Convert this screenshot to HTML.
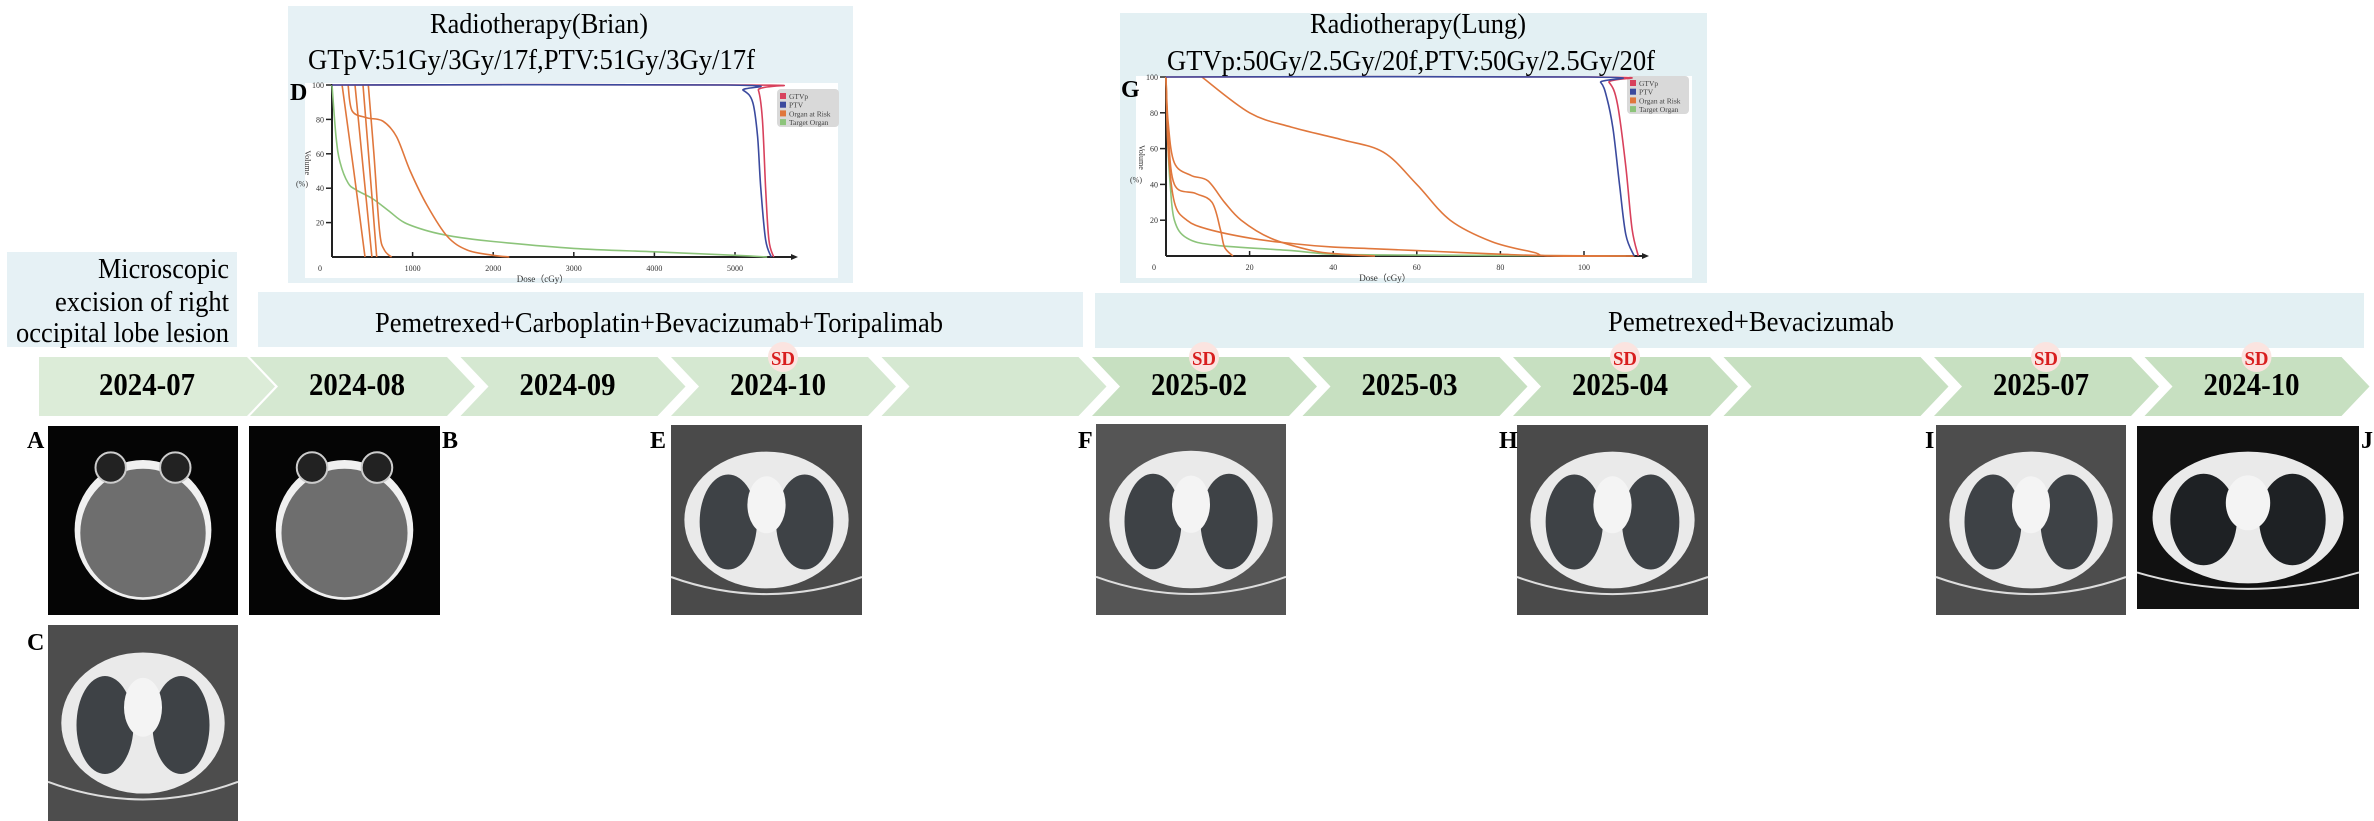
<!DOCTYPE html>
<html><head><meta charset="utf-8">
<style>
html,body{margin:0;padding:0;background:#fff;}
svg{display:block;}
text{font-family:"Liberation Serif",serif;}
</style></head>
<body>
<svg id="fig" width="2374" height="821" viewBox="0 0 2374 821" xmlns="http://www.w3.org/2000/svg">
<g>
<rect x="7" y="252" width="230" height="95" fill="#e6f1f5"/>
<text x="229" y="278" font-size="28" text-anchor="end" textLength="131" lengthAdjust="spacingAndGlyphs">Microscopic</text>
<text x="229" y="311" font-size="28" text-anchor="end" textLength="174" lengthAdjust="spacingAndGlyphs">excision of right</text>
<text x="229" y="342" font-size="28" text-anchor="end" textLength="213" lengthAdjust="spacingAndGlyphs">occipital lobe lesion</text>
</g>
<g>
<rect x="258" y="292" width="825" height="55" fill="#e6f1f5"/>
<text x="375" y="332" font-size="28" textLength="568" lengthAdjust="spacingAndGlyphs">Pemetrexed+Carboplatin+Bevacizumab+Toripalimab</text>
</g>
<g>
<rect x="1095" y="293" width="1269" height="55" fill="#e3f0f3"/>
<text x="1608" y="331" font-size="28" textLength="286" lengthAdjust="spacingAndGlyphs">Pemetrexed+Bevacizumab</text>
</g>
<g id="brainChart">
<rect x="288" y="6" width="565" height="277" fill="#e6f1f5"/>
<rect x="305" y="83" width="533" height="195" fill="#fff"/>
<text x="430" y="33" font-size="28" textLength="218" lengthAdjust="spacingAndGlyphs">Radiotherapy(Brian)</text>
<text x="308" y="69" font-size="28" textLength="447" lengthAdjust="spacingAndGlyphs">GTpV:51Gy/3Gy/17f,PTV:51Gy/3Gy/17f</text>
<text x="290" y="100" font-size="24" font-weight="bold">D</text>
</g>
<g id="lungChart">
<rect x="1120" y="13" width="587" height="270" fill="#e3f0f3"/>
<rect x="1136" y="76" width="556" height="202" fill="#fff"/>
<text x="1310" y="33" font-size="28" textLength="216" lengthAdjust="spacingAndGlyphs">Radiotherapy(Lung)</text>
<text x="1167" y="70" font-size="28" textLength="488" lengthAdjust="spacingAndGlyphs">GTVp:50Gy/2.5Gy/20f,PTV:50Gy/2.5Gy/20f</text>
<text x="1121" y="97" font-size="24" font-weight="bold">G</text>
</g>
<g id="timeline"></g>
<g id="scans"></g>
</svg>
<script>
// ---------- Brain DVH data (dose cGy, volume %) ----------
const brainXTicks=[0,1000,2000,3000,4000,5000];
const brainYTicks=[20,40,60,80,100];
const brainGtvDose=[0,5200,5290,5340,5380,5420,5480];
const brainGtvVol=[100,100,97,80,40,10,0];
const brainPtvDose=[0,4900,5100,5220,5280,5320,5380,5450];
const brainPtvVol=[100,100,97,90,70,40,10,0];
const brainTargetDose=[0,50,100,200,300,500,700,900,1200,1500,2000,3000,4000,5000,5400];
const brainTargetVol=[100,70,55,43,39,34,27,20,15,12,9,5,3,1,0];
const brainOar1Dose=[125,270,410];
const brainOar1Vol=[100,50,0];
const brainOar2Dose=[200,250,430,630,800,970,1180,1430,1680,2000,2200];
const brainOar2Vol=[100,85,81,79,70,50,30,12,4,1,0];
const brainOar3Dose=[285,390,495];
const brainOar3Vol=[100,50,0];
const brainOar4Dose=[385,470,555];
const brainOar4Vol=[100,50,0];
const brainOar5Dose=[450,520,590,650,740];
const brainOar5Vol=[100,60,15,4,0];
// ---------- Lung DVH data (dose Gy, volume %) ----------
const lungXTicks=[0,20,40,60,80,100];
const lungYTicks=[20,40,60,80,100];
const lungGtvDose=[0,103,106,108,110,111.5,113];
const lungGtvVol=[100,100,97,85,50,15,0];
const lungPtvDose=[0,101,104,105.5,107,108.5,110,112];
const lungPtvVol=[100,100,97,88,70,40,12,0];
const lungTargetDose=[0,0.5,1,2,5,12,30,40,60,110];
const lungTargetVol=[100,60,40,20,10,6,3,1,0.5,0];
const lungOarADose=[8.6,20,30,42,52,60,68,78,88,92,112];
const lungOarAVol=[100,80,72,65,58,40,20,8,2,0,0];
const lungOarBDose=[0,0.5,2,6,10,14,18,25,35,42,50];
const lungOarBVol=[100,75,52,45,42,30,20,10,3,1,0];
const lungOarCDose=[0,0.5,2,7,11,13,14,16];
const lungOarCVol=[100,70,40,35,30,15,5,0];
const lungOarDDose=[0,0.5,2,5,10,20,30,40,50,60,70,80,90,112];
const lungOarDVol=[100,60,30,20,15,10,7,5,4,3,2,1,0.3,0];
// ---------- Timeline data ----------
const dateLabels=["2024-07","2024-08","2024-09","2024-10","","2025-02","2025-03","2025-04","","2025-07","2024-10"];
const sdFlags=[0,0,0,1,0,1,0,1,0,1,1];

const NS="http://www.w3.org/2000/svg";
function mk(tag,attrs,parent){const e=document.createElementNS(NS,tag);for(const k in attrs)e.setAttribute(k,attrs[k]);if(parent)parent.appendChild(e);return e;}
function curve(xs,ys,sx,sy){
  const p=xs.map((x,i)=>[sx(x),sy(ys[i])]);
  let d="M"+p[0][0].toFixed(1)+","+p[0][1].toFixed(1);
  for(let i=0;i<p.length-1;i++){
    const p0=p[i-1]||p[i],p1=p[i],p2=p[i+1],p3=p[i+2]||p[i+1];
    const c1=[p1[0]+(p2[0]-p0[0])/6,p1[1]+(p2[1]-p0[1])/6];
    const c2=[p2[0]-(p3[0]-p1[0])/6,p2[1]-(p3[1]-p1[1])/6];
    d+=" C"+c1.map(v=>v.toFixed(1))+" "+c2.map(v=>v.toFixed(1))+" "+p2[0].toFixed(1)+","+p2[1].toFixed(1);
  }
  return d;
}
const C_GTV="#d8415c",C_PTV="#3b4a9e",C_OAR="#e0773c",C_TGT="#8cc47a";

function drawAxes(g,sx,sy,xTicks,yTicks,x0,y0,xEnd,yTop,xlabel,legX,legY){
  const ax=mk("g",{},g);
  
  
  mk("line",{x1:x0,y1:y0,x2:xEnd,y2:y0,stroke:"#222","stroke-width":2},ax);
  mk("line",{x1:x0,y1:y0,x2:x0,y2:yTop,stroke:"#222","stroke-width":2},ax);
  mk("path",{d:`M${xEnd+5},${y0} L${xEnd-2},${y0-3} L${xEnd-2},${y0+3}Z`,fill:"#222"},ax);
  xTicks.forEach(t=>{
    const x=sx(t);
    if(t>0) mk("line",{x1:x,y1:y0-5,x2:x,y2:y0,stroke:"#222","stroke-width":1.5},ax);
    const tx=mk("text",{x:t===0?x0-12:x,y:y0+14,"font-size":8,"text-anchor":"middle",fill:"#333"},ax);
    tx.textContent=t;
  });
  yTicks.forEach(t=>{
    const y=sy(t);
    mk("line",{x1:x0-6,y1:y,x2:x0,y2:y,stroke:"#222","stroke-width":1.5},ax);
    const ty=mk("text",{x:x0-8,y:y+3,"font-size":8,"text-anchor":"end",fill:"#333"},ax);
    ty.textContent=t;
  });
  const yl=mk("text",{x:0,y:0,"font-size":8,fill:"#333",transform:`translate(${x0-27},${sy(62)}) rotate(90)`},ax);
  yl.textContent="Volume";
  const yp=mk("text",{x:x0-30,y:sy(41),"font-size":8,fill:"#333","text-anchor":"middle"},ax);
  yp.textContent="(%)";
  const xl=mk("text",{x:(x0+xEnd)/2-20,y:y0+25,"font-size":9,fill:"#333","text-anchor":"middle"},ax);
  xl.textContent=xlabel;
  const lg=mk("g",{},g);
  
  
  mk("rect",{x:legX,y:legY,width:62,height:38,rx:4,fill:"#d9d9d9"},lg);
  [["GTVp",C_GTV],["PTV",C_PTV],["Organ at Risk",C_OAR],["Target Organ",C_TGT]].forEach((e,i)=>{
    mk("rect",{x:legX+3,y:legY+4+i*8.7,width:6,height:6,fill:e[1]},lg);
    const t=mk("text",{x:legX+12,y:legY+10+i*8.7,"font-size":7.5,fill:"#444"},lg);
    t.textContent=e[0];
  });
}
function series(g,xs,ys,sx,sy,color,name){
  const p=mk("path",{d:curve(xs,ys,sx,sy),fill:"none",stroke:color,"stroke-width":1.6},g);
  
  
}

// Brain chart
(function(){
  const g=document.getElementById("brainChart");
  const sx=v=>332+v*0.0806, sy=p=>257-p*1.72;
  drawAxes(g,sx,sy,brainXTicks,brainYTicks,332,257,793,84,"Dose（cGy）",777,89);
  series(g,brainTargetDose,brainTargetVol,sx,sy,C_TGT,"brain-target-organ-line");
  series(g,brainOar1Dose,brainOar1Vol,sx,sy,C_OAR,"brain-oar-line-1");
  series(g,brainOar2Dose,brainOar2Vol,sx,sy,C_OAR,"brain-oar-line-2");
  series(g,brainOar3Dose,brainOar3Vol,sx,sy,C_OAR,"brain-oar-line-3");
  series(g,brainOar4Dose,brainOar4Vol,sx,sy,C_OAR,"brain-oar-line-4");
  series(g,brainOar5Dose,brainOar5Vol,sx,sy,C_OAR,"brain-oar-line-5");
  series(g,brainGtvDose,brainGtvVol,sx,sy,C_GTV,"brain-gtvp-line");
  series(g,brainPtvDose,brainPtvVol,sx,sy,C_PTV,"brain-ptv-line");
})();
// Lung chart
(function(){
  const g=document.getElementById("lungChart");
  const sx=v=>1166+v*4.18, sy=p=>256-p*1.79;
  drawAxes(g,sx,sy,lungXTicks,lungYTicks,1166,256,1644,77,"Dose（cGy）",1627,76);
  series(g,lungTargetDose,lungTargetVol,sx,sy,C_TGT,"lung-target-organ-line");
  series(g,lungOarADose,lungOarAVol,sx,sy,C_OAR,"lung-oar-line-a");
  series(g,lungOarBDose,lungOarBVol,sx,sy,C_OAR,"lung-oar-line-b");
  series(g,lungOarCDose,lungOarCVol,sx,sy,C_OAR,"lung-oar-line-c");
  series(g,lungOarDDose,lungOarDVol,sx,sy,C_OAR,"lung-oar-line-d");
  series(g,lungGtvDose,lungGtvVol,sx,sy,C_GTV,"lung-gtvp-line");
  series(g,lungPtvDose,lungPtvVol,sx,sy,C_PTV,"lung-ptv-line");
})();
// Timeline arrows
(function(){
  const g=document.getElementById("timeline");
  const y0=357,y1=416,ym=386.5;
  dateLabels.forEach((lab,k)=>{
    const n=250+210.5*(k-1);
    const col=k<5?(k===0?"#dcecd8":"#d5e8d1"):"#c7e0c1";
    let pts;
    if(k===0) pts=`39,${y0} 247,${y0} 275,${ym} 247,${y1} 39,${y1}`;
    else pts=`${n},${y0} ${n+197},${y0} ${n+225},${ym} ${n+197},${y1} ${n},${y1} ${n+28},${ym}`;
    const a=mk("polygon",{points:pts,fill:col},g);
    
    
    const cx=(k===0?147:n+107);
    if(lab){
      const t=mk("text",{x:cx,y:395,"font-size":32,"font-weight":"bold","text-anchor":"middle",textLength:96,lengthAdjust:"spacingAndGlyphs"},g);
      t.textContent=lab;
      
      
    }
    if(sdFlags[k]){
      const c=mk("circle",{cx:cx+5,cy:357,r:15,fill:"#fbe4e0"},g);
      
      
      const s=mk("text",{x:cx+5,y:365,"font-size":20,"font-weight":"bold","text-anchor":"middle",fill:"#d81e1e",textLength:24,lengthAdjust:"spacingAndGlyphs"},g);
      s.textContent="SD";
      
      
    }
  });
})();
// Scan images
(function(){
  const g=document.getElementById("scans");
  function lung(x,y,w,h,bg,lungc,name){
    const s=mk("g",{},g);
    
    
    mk("rect",{x:x,y:y,width:w,height:h,fill:bg},s);
    const cx=x+w/2, cy=y+h*0.5;
    mk("ellipse",{cx:cx,cy:cy,rx:w*0.43,ry:h*0.36,fill:"#eaeaea"},s);
    mk("ellipse",{cx:cx-w*0.2,cy:cy+2,rx:w*0.15,ry:h*0.25,fill:lungc},s);
    mk("ellipse",{cx:cx+w*0.2,cy:cy+2,rx:w*0.15,ry:h*0.25,fill:lungc},s);
    mk("ellipse",{cx:cx,cy:cy-h*0.08,rx:w*0.1,ry:h*0.15,fill:"#f4f4f4"},s);
    mk("path",{d:`M${x},${y+h*0.8} Q${cx},${y+h*0.98} ${x+w},${y+h*0.8}`,fill:"none",stroke:"#ddd","stroke-width":2},s);
  }
  function brain(x,y,w,h,name){
    const s=mk("g",{},g);
    
    
    mk("rect",{x:x,y:y,width:w,height:h,fill:"#050505"},s);
    const cx=x+w/2, cy=y+h*0.55;
    mk("ellipse",{cx:cx,cy:cy,rx:w*0.36,ry:h*0.37,fill:"#f0f0f0"},s);
    mk("ellipse",{cx:cx,cy:cy+3,rx:w*0.33,ry:h*0.34,fill:"#6e6e6e"},s);
    mk("circle",{cx:cx-w*0.17,cy:y+h*0.22,r:w*0.08,fill:"#222",stroke:"#ccc","stroke-width":2},s);
    mk("circle",{cx:cx+w*0.17,cy:y+h*0.22,r:w*0.08,fill:"#222",stroke:"#ccc","stroke-width":2},s);
  }
  brain(48,426,190,189,"scan-a-brain-ct");
  brain(249,426,191,189,"scan-b-brain-ct");
  lung(48,625,190,196,"#4d4d4d","#3e4246","scan-c-lung-ct");
  lung(671,425,191,190,"#4a4a4a","#3e4246","scan-e-lung-ct");
  lung(1096,424,190,191,"#555","#3e4246","scan-f-lung-ct");
  lung(1517,425,191,190,"#4a4a4a","#3e4246","scan-h-lung-ct");
  lung(1936,425,190,190,"#4d4d4d","#3e4246","scan-i-lung-ct");
  lung(2137,426,222,183,"#111","#1e2124","scan-j-lung-ct");
  [["A",27,448],["B",442,448],["C",27,650],["E",650,448],["F",1078,448],["H",1499,448],["I",1925,448],["J",2361,448]].forEach(l=>{
    const t=mk("text",{x:l[1],y:l[2],"font-size":24,"font-weight":"bold"},g);
    t.textContent=l[0];
    
    
  });
})();
</script>
</body></html>
